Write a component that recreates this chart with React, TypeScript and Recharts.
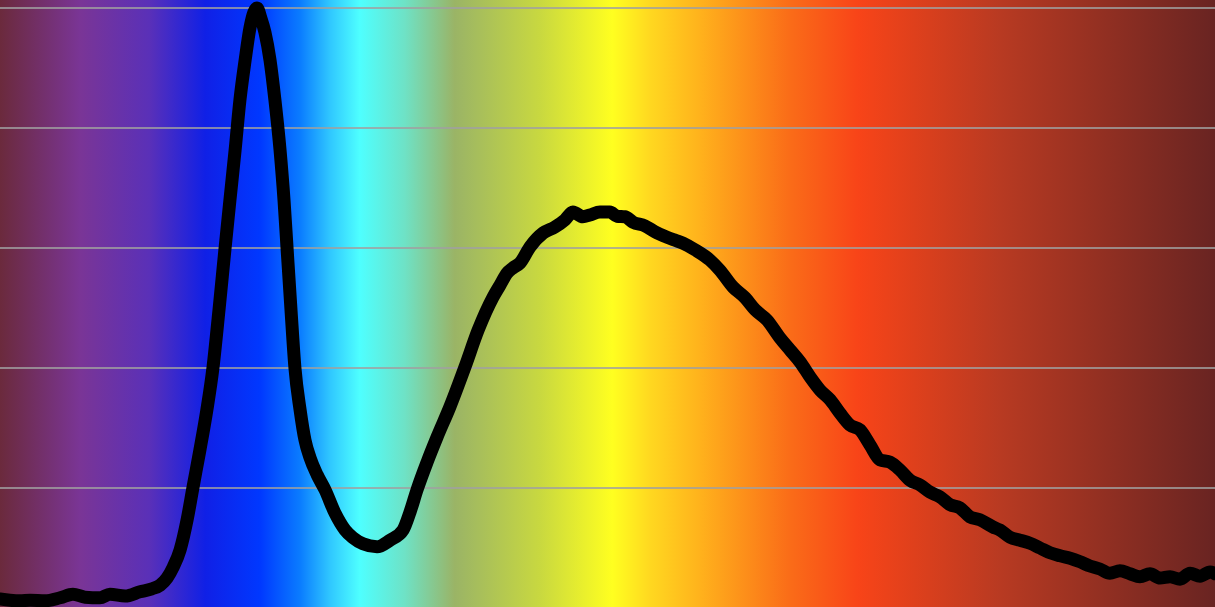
import { LineChart, Line, XAxis, YAxis, CartesianGrid } from 'recharts';

// wavelength (nm) and relative intensity (%)
const wavelengths = [
  380, 383.3, 386.6, 389.9, 394.8, 399.8, 404, 408, 412.9, 416.2, 421.2, 426.1, 430, 432.7, 435, 437, 439.3, 441.6, 443.5, 445.8,
  448.1, 450.1, 452.1, 454.1, 455.7, 457.4, 459, 460.7, 462.3, 463.6, 464.6, 465.9, 467.2, 468.9, 470.5, 472.2, 473.5, 474.5, 475.8, 477.1,
  478.8, 480.4, 482.1, 484.4, 487, 490.3, 493.6, 496.2, 499.5, 504.1, 508.4, 512.7, 515, 517.3, 520.6, 523.9, 528.1, 533.1, 537.4, 542.3,
  544.6, 546.9, 548.9, 551.2, 554.5, 558.8, 562.7, 566, 568.6, 571.9, 574.2, 577.5, 580.8, 583.1, 585.8, 588.4, 592.3, 595.6, 599.6, 602.2,
  604.9, 608.8, 613.7, 617, 621.3, 625.3, 628.6, 632.5, 636.8, 640.1, 643.4, 646.7, 650, 653.3, 656.5, 659.8, 663.1, 666.4, 669.7, 673,
  676.3, 679.6, 682.9, 686.2, 689.5, 692.8, 696, 699.3, 702.6, 706.9, 709.2, 712.5, 715.8, 719.1, 722.4, 725.7, 729, 732.3, 735.6, 738.8,
  742.1, 745.4, 748.7, 752, 755.3, 758.6, 761.9, 765.2, 768.5, 771.8, 775.1, 778.4, 780,
];
const intensity = [
  1.5, 1.3, 1.2, 1.3, 1.2, 1.7, 2.3, 1.8, 1.7, 2.3, 2.0, 2.7, 3.2, 3.8, 5.0, 6.8, 9.7, 14.7, 20, 26.3,
  33, 40, 49.7, 60, 68, 76.3, 84.7, 91.3, 96.7, 99.3, 100, 98.3, 96, 91.3, 84.7, 76.3, 68, 60, 49.7, 40,
  33, 28, 25, 22.2, 19.7, 15.8, 13, 11.7, 10.7, 10.2, 11.3, 13, 16, 19.7, 24.3, 28.5, 33.5, 40.2, 46.3, 51.8,
  53.8, 55.8, 56.7, 57.5, 60.2, 62.5, 63.5, 64.7, 66, 65.2, 65.5, 66, 66, 65.3, 65.2, 64.3, 63.7, 62.7, 61.8, 61.3,
  60.8, 59.7, 58, 56.3, 53.5, 51.7, 49.7, 48, 45, 43, 41, 38.5, 36.3, 34.7, 32.5, 30.5, 29.7, 27.2, 24.7, 24.3,
  23, 21.3, 20.5, 19.3, 18.5, 17.2, 16.7, 15.2, 14.7, 13.5, 13, 11.8, 11.3, 10.8, 10, 9.2, 8.7, 8.3, 7.7, 7,
  6.5, 5.8, 6.2, 5.7, 5.2, 5.7, 5, 5.2, 4.8, 5.8, 5.3, 6, 5.7,
];
const yTicks = [0, 20, 40, 60, 80, 100];

const spectrumStops = [
  ['0%', '#6b2a3c'], ['6.6%', '#7a3596'], ['12.3%', '#5a30b8'], ['16.9%', '#1020e6'],
  ['21.4%', '#0038ff'], ['24.7%', '#0a7cff'], ['27.2%', '#30c8ff'], ['29.6%', '#4effff'],
  ['33.3%', '#6ee2c6'], ['37.4%', '#9ab466'], ['44.4%', '#c8d840'], ['50.4%', '#ffff20'],
  ['53.5%', '#ffd820'], ['57.6%', '#ffb21c'], ['65%', '#fa6c18'], ['70.6%', '#f84418'],
  ['82.3%', '#b83a22'], ['100%', '#692422'],
];

const data = wavelengths.map((nm, i) => ({ nm, v: intensity[i] }));

export default function App() {
  const bg = `linear-gradient(to right, ${spectrumStops.map(([p, c]) => `${c} ${p}`).join(', ')})`;
  return (
    <div style={{ position: 'fixed', top: 0, left: 0, width: 1215, height: 607, overflow: 'hidden', background: bg }}>
      <LineChart width={1215} height={608} data={data} margin={{ top: 8, right: 0, bottom: 0, left: 0 }}>
        <CartesianGrid vertical={false} stroke="#a0a0a0" strokeOpacity={0.8} strokeWidth={2} />
        <XAxis dataKey="nm" type="number" domain={[380, 780]} hide />
        <YAxis type="number" domain={[0, 100]} ticks={yTicks} hide />
        <Line
          type="monotone"
          dataKey="v"
          stroke="#000"
          strokeWidth={13}
          strokeLinejoin="round"
          strokeLinecap="round"
          dot={false}
          isAnimationActive={false}
        />
      </LineChart>
    </div>
  );
}
